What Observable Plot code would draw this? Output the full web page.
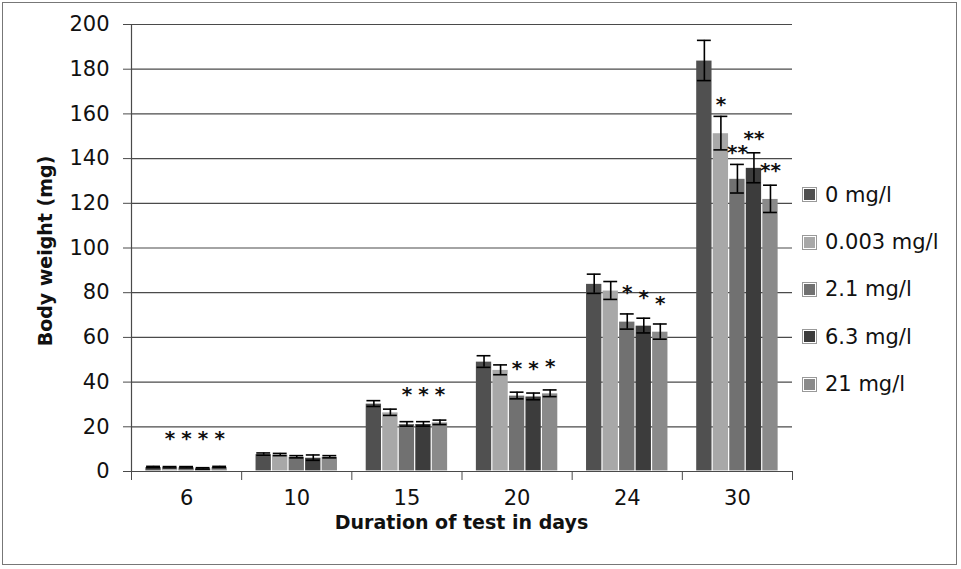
<!DOCTYPE html>
<html>
<head>
<meta charset="utf-8">
<script src="https://cdn.jsdelivr.net/npm/d3@7"></script>
<script src="https://cdn.jsdelivr.net/npm/@observablehq/plot@0.6"></script>
<style>
  body { margin: 0; background: #fff; }
  #wrap { position: relative; width: 961px; height: 569px; font-family: "DejaVu Sans", sans-serif; color: #111; background: #fff; }
  #wrap svg.chart { position: absolute; left: 0; top: 0; }
  #border { position: absolute; left: 2px; top: 2px; width: 953px; height: 561px; border: 1.5px solid #777; pointer-events: none; }
  #ytitle { position: absolute; left: -105px; top: 240px; width: 300px; text-align: center; font-weight: bold; font-size: 19px; line-height: 22px; transform: rotate(-90deg); }
  #xtitle { position: absolute; left: 131px; top: 513px; width: 661px; text-align: center; font-weight: bold; font-size: 19px; line-height: 19px; }
  #legend { position: absolute; left: 803px; top: 171px; }
  .item { display: flex; align-items: center; height: 47.4px; font-size: 21px; }
  .sw { width: 13px; height: 13px; margin-right: 9px; box-sizing: border-box; border: 1px solid #fff; outline: 0.5px solid #999; }
</style>
</head>
<body>
<div id="wrap">
  <div id="ytitle">Body weight (mg)</div>
  <div id="xtitle">Duration of test in days</div>
  <div id="legend"></div>
  <div id="border"></div>
</div>
<script>
// ---- data ----
const days = ["6", "10", "15", "20", "24", "30"];
const series = ["0 mg/l", "0.003 mg/l", "2.1 mg/l", "6.3 mg/l", "21 mg/l"];

const mean_0     = [2.0, 7.8, 30.4, 49.2, 84.0, 183.9];
const mean_0003  = [1.9, 7.6, 26.5, 45.5, 81.0, 151.4];
const mean_2_1   = [1.9, 6.6, 21.3, 34.0, 67.1, 131.0];
const mean_6_3   = [1.4, 6.2, 21.3, 33.6, 65.3, 135.9];
const mean_21    = [2.0, 6.6, 22.0, 35.0, 62.6, 122.0];

const err_0      = [0.3, 0.5, 1.3, 2.6, 4.3, 9.0];
const err_0003   = [0.3, 0.5, 1.4, 2.2, 4.0, 7.5];
const err_2_1    = [0.3, 0.5, 1.0, 1.5, 3.4, 6.4];
const err_6_3    = [0.3, 1.2, 1.0, 1.5, 3.3, 6.7];
const err_21     = [0.3, 0.5, 1.0, 1.5, 3.4, 6.1];

// significance marks: label, day, series, height (mg) where drawn
const starLabel  = ["*", "*", "*", "*", "*", "*", "*", "*", "*", "*", "*", "*", "*", "*", "**", "**", "**"];
const starDay    = ["6", "6", "6", "6", "15", "15", "15", "20", "20", "20", "24", "24", "24", "30", "30", "30", "30"];
const starSeries = ["0.003 mg/l", "2.1 mg/l", "6.3 mg/l", "21 mg/l",
                    "2.1 mg/l", "6.3 mg/l", "21 mg/l",
                    "2.1 mg/l", "6.3 mg/l", "21 mg/l",
                    "2.1 mg/l", "6.3 mg/l", "21 mg/l",
                    "0.003 mg/l", "2.1 mg/l", "6.3 mg/l", "21 mg/l"];
const starAt     = [17, 17, 17, 17, 36.7, 36.7, 36.7, 48.3, 48.3, 49, 82.3, 80, 77.4, 166.4, 145.0, 151.2, 137];

const yTicks = [0, 20, 40, 60, 80, 100, 120, 140, 160, 180, 200];
const colors = ["#505050", "#a8a8a8", "#717171", "#3c3c3c", "#8a8a8a"];

// ---- build table ----
const means = [mean_0, mean_0003, mean_2_1, mean_6_3, mean_21];
const errs = [err_0, err_0003, err_2_1, err_6_3, err_21];
const rows = [];
days.forEach((day, gi) => series.forEach((s, si) => {
  rows.push({day, gi, series: s, si, value: means[si][gi], err: errs[si][gi]});
}));
const stars = starLabel.map((label, i) => ({
  label, gi: days.indexOf(starDay[i]), si: series.indexOf(starSeries[i]), at: starAt[i]
}));

// layout within each day group (group = 1 unit on x)
const SLOT = 0.15;
const xc = d => d.gi + 0.5 + (d.si - 2) * SLOT;
const CAP = SLOT * 0.42;

const chart = Plot.plot({
  width: 961,
  height: 569,
  marginLeft: 131,
  marginRight: 169,
  marginTop: 24,
  marginBottom: 98,
  style: {fontFamily: "DejaVu Sans, sans-serif", fontSize: "21px", color: "#111", background: "#fff"},
  x: {type: "linear", domain: [0, days.length], axis: null},
  y: {domain: [0, 200], axis: null},
  color: {domain: series, range: colors},
  marks: [
    Plot.ruleY(yTicks, {stroke: "#4a4a4a", strokeWidth: 1.2}),
    Plot.ruleX([0], {stroke: "#4a4a4a", strokeWidth: 1.2}),
    Plot.rectY(rows, {
      x1: d => xc(d) - SLOT / 2, x2: d => xc(d) + SLOT / 2,
      y1: 0, y2: "value", fill: "series", inset: 0.6
    }),
    Plot.ruleX(rows, {x: xc, y1: d => d.value - d.err, y2: d => d.value + d.err, stroke: "#000", strokeWidth: 1.6}),
    Plot.ruleY(rows, {y: d => d.value + d.err, x1: d => xc(d) - CAP, x2: d => xc(d) + CAP, stroke: "#000", strokeWidth: 1.6}),
    Plot.ruleY(rows, {y: d => d.value - d.err, x1: d => xc(d) - CAP, x2: d => xc(d) + CAP, stroke: "#000", strokeWidth: 1.6}),
    Plot.text(stars, {x: xc, y: "at", text: "label", fontSize: 20, fontWeight: "bold", lineAnchor: "middle", dy: 5, fill: "#111"}),
    Plot.axisY({ticks: yTicks, tickSize: 8, tickPadding: 14, stroke: "#4a4a4a", fontSize: 21, fill: "#111"}),
    Plot.axisX({ticks: d3.range(days.length + 1), tickSize: 9, tickFormat: () => "", stroke: "#4a4a4a"}),
    Plot.axisX({ticks: d3.range(days.length).map(i => i + 0.5), tickSize: 0, tickPadding: 19,
                tickFormat: t => days[Math.floor(t)], fontSize: 21, fill: "#111"})
  ]
});
chart.classList.add("chart");
const wrap = document.getElementById("wrap");
wrap.insertBefore(chart, wrap.firstChild);

const legend = document.getElementById("legend");
series.forEach((s, i) => {
  const item = document.createElement("div");
  item.className = "item";
  const sw = document.createElement("span");
  sw.className = "sw";
  sw.style.background = colors[i];
  item.appendChild(sw);
  item.appendChild(document.createTextNode(s));
  legend.appendChild(item);
});
</script>
</body>
</html>
